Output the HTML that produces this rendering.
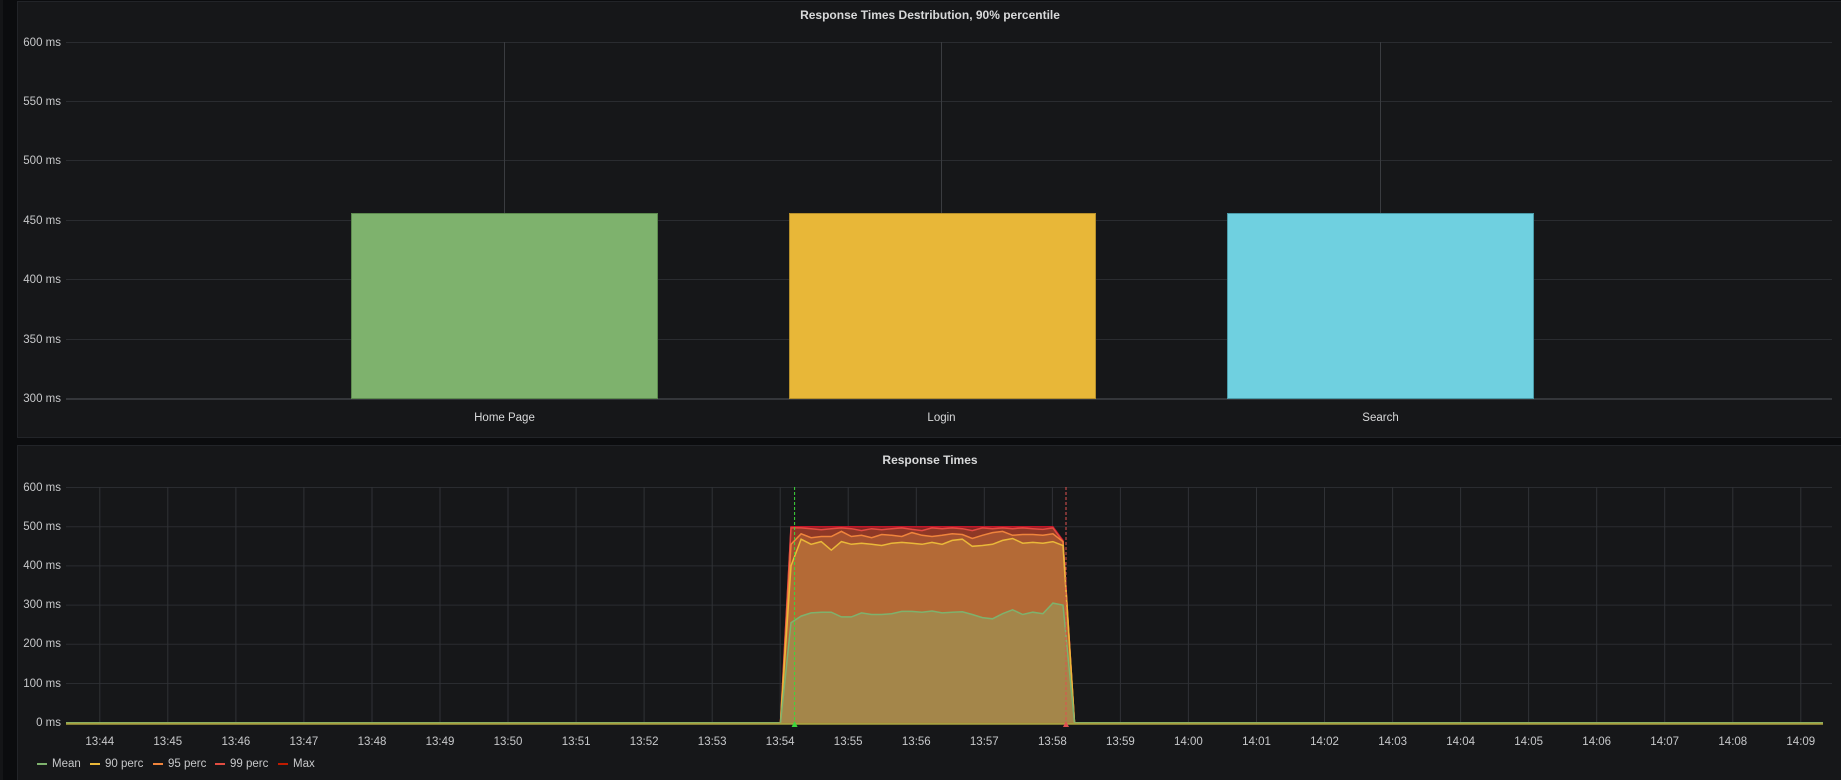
<!DOCTYPE html>
<html><head><meta charset="utf-8"><style>
html,body{margin:0;padding:0;background:#0b0c0e;width:1841px;height:780px;overflow:hidden}
svg{display:block}
text{font-family:"Liberation Sans",sans-serif;}
</style></head><body>
<svg id="s" width="1841" height="780" xmlns="http://www.w3.org/2000/svg">
<rect x="0" y="0" width="3" height="780" fill="#141517"/>
<!-- top panel -->
<rect x="17.5" y="1.5" width="1830" height="436" fill="#161719" stroke="#222428"/>
<text x="930" y="19" fill="#d8d9da" font-size="12" font-weight="bold" text-anchor="middle">Response Times Destribution, 90% percentile</text>
<g stroke="#2a2c30" stroke-width="1">
<line x1="66" x2="1832" y1="42.5" y2="42.5"/><line x1="66" x2="1832" y1="101.5" y2="101.5"/>
<line x1="66" x2="1832" y1="160.5" y2="160.5"/><line x1="66" x2="1832" y1="220.5" y2="220.5"/>
<line x1="66" x2="1832" y1="279.5" y2="279.5"/><line x1="66" x2="1832" y1="339.5" y2="339.5"/>
<line x1="66" x2="1832" y1="399" y2="399" stroke="#34363a" stroke-width="2"/>
<line x1="504.5" x2="504.5" y1="42" y2="213" stroke="#3a3c40"/>
<line x1="941.5" x2="941.5" y1="42" y2="213" stroke="#3a3c40"/>
<line x1="1380.5" x2="1380.5" y1="42" y2="213" stroke="#3a3c40"/>
</g>
<g fill="#c7c8ca" font-size="11.5" text-anchor="end">
<text x="61" y="46">600 ms</text><text x="61" y="105">550 ms</text><text x="61" y="164">500 ms</text>
<text x="61" y="224">450 ms</text><text x="61" y="283">400 ms</text><text x="61" y="343">350 ms</text><text x="61" y="402">300 ms</text>
</g>
<rect x="351.5" y="213.5" width="306" height="185" fill="#7eb26d" stroke="#5d8a4f"/>
<rect x="789.5" y="213.5" width="306" height="185" fill="#e8b738" stroke="#b68f2b"/>
<rect x="1227.5" y="213.5" width="306" height="185" fill="#6fd0e0" stroke="#4a9aa8"/>
<g fill="#d8d9da" font-size="11.5" text-anchor="middle">
<text x="504.5" y="421">Home Page</text><text x="941.5" y="421">Login</text><text x="1380.5" y="421">Search</text>
</g>
<!-- bottom panel -->
<rect x="17.5" y="445.5" width="1830" height="336" fill="#161719" stroke="#222428"/>
<text x="930" y="464" fill="#d8d9da" font-size="12" font-weight="bold" text-anchor="middle">Response Times</text>
<g id="grid" stroke="#2a2c30" stroke-width="1"></g>
<g id="data"></g>
<g fill="#c7c8ca" font-size="11.5" text-anchor="end">
<text x="61" y="491">600 ms</text><text x="61" y="530">500 ms</text><text x="61" y="569">400 ms</text>
<text x="61" y="608">300 ms</text><text x="61" y="647">200 ms</text><text x="61" y="687">100 ms</text><text x="61" y="726">0 ms</text>
</g>
<g id="xl" fill="#c7c8ca" font-size="11.5" text-anchor="middle"></g>
<g font-size="11.5" fill="#c7c8ca">
<rect x="37" y="763" width="10" height="2" fill="#7eb26d"/><text x="52" y="767">Mean</text>
<rect x="90" y="763" width="10" height="2" fill="#eab839"/><text x="105" y="767">90 perc</text>
<rect x="153" y="763" width="10" height="2" fill="#ef843c"/><text x="168" y="767">95 perc</text>
<rect x="215" y="763" width="10" height="2" fill="#e24d42"/><text x="230" y="767">99 perc</text>
<rect x="278" y="763" width="10" height="2" fill="#bf1b00"/><text x="293" y="767">Max</text>
</g>
</svg>
<script>
var NS="http://www.w3.org/2000/svg";
function el(p,t,a){var e=document.createElementNS(NS,t);for(var k in a)e.setAttribute(k,a[k]);p.appendChild(e);return e;}
var g=document.getElementById('grid'),xl=document.getElementById('xl'),d=document.getElementById('data');
var y0=722.7,k=0.392;
for(var v=100;v<=600;v+=100){var y=(y0-v*k).toFixed(1);el(g,'line',{x1:66,x2:1832,y1:y,y2:y});}
var labs=[];for(var m=44;m<=69;m++){var h=m<60?13:14,mm=m%60;labs.push(h+':'+(mm<10?'0':'')+mm);}
labs.forEach(function(l,i){var x=(99.8+i*68.04).toFixed(1);el(g,'line',{x1:x,x2:x,y1:487,y2:723,stroke:'#303236'});var t=el(xl,'text',{x:x,y:745});t.textContent=l;});
var mean=[255,272,280,282,282,270,270,280,276,276,278,284,284,282,285,280,282,283,276,268,265,278,288,276,282,278,305,300];
var p90=[400,468,455,462,440,462,455,458,455,452,458,460,458,455,460,455,465,468,450,452,455,465,470,458,460,458,462,452];
var p95=[455,482,472,475,475,488,475,478,472,480,478,475,485,478,475,478,482,480,470,478,485,488,478,480,480,478,482,462];
var p99=[497,497,495,492,495,497,495,490,495,492,495,497,493,490,497,495,497,495,490,497,495,497,495,497,495,493,497,462];
var mx=mean.map(function(_,i){return i==27?465:500;});
var n=28,xs=[];for(var i=0;i<n;i++)xs.push(791+i*(272/27));
function pts(a){var s='';for(var i=0;i<n;i++)s+=xs[i].toFixed(1)+','+(y0-a[i]*k).toFixed(1)+' ';return s;}
function area(a,fill){el(d,'polygon',{points:'780.5,'+y0+' '+pts(a)+'1074.5,'+y0,fill:fill});}
area(mx,'#7d2520');area(p99,'#8e3826');area(p95,'#a4512f');area(p90,'#b46a36');area(mean,'#a4864a');
function line(a,c){el(d,'polyline',{points:'66,'+y0+' 780.5,'+y0+' '+pts(a)+'1074.5,'+y0+' 1823,'+y0,fill:'none',stroke:c,'stroke-width':1.5});}
line(mx,'#c4162a');line(p99,'#e24d42');line(p95,'#ef843c');line(p90,'#eab839');line(mean,'#7eb26d');
el(d,'line',{x1:66,x2:1823,y1:y0+1,y2:y0+1,stroke:'#a8a040','stroke-width':2});
el(d,'line',{x1:794.6,x2:794.6,y1:487,y2:723,stroke:'#3cd83c','stroke-dasharray':'3,2'});
el(d,'line',{x1:1066,x2:1066,y1:487,y2:723,stroke:'#e05050','stroke-dasharray':'3,2'});
el(d,'polygon',{points:'791.6,727 797.6,727 794.6,721',fill:'#3cd83c'});
el(d,'polygon',{points:'1063,727 1069,727 1066,721',fill:'#e05050'});
</script>
</body></html>
